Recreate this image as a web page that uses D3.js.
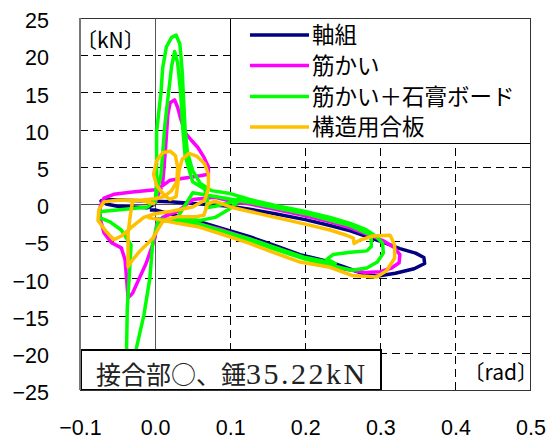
<!DOCTYPE html>
<html>
<head>
<meta charset="utf-8">
<script src="https://cdn.jsdelivr.net/npm/d3@7"></script>
<style>
  body { margin: 0; background: #fff; }
  svg { display: block; }
</style>
</head>
<body>
<script>
// tick values
const xTicks = [-0.1, 0.0, 0.1, 0.2, 0.3, 0.4, 0.5];
const yTicks = [-25, -20, -15, -10, -5, 0, 5, 10, 15, 20, 25];

const seriesNames = ["軸組", "筋かい", "筋かい＋石膏ボード", "構造用合板"];
const seriesColors = ["#000080", "#ff00ff", "#00ff00", "#ffc000"];

// [rad, kN]
const jikugumi = [
  [0.000, 0.0], [-0.010, -0.5], [-0.030, -0.4], [-0.050, -0.3], [-0.065, 0.0], [-0.072, 0.4],
  [-0.066, 0.6], [-0.040, 0.5], [-0.010, 0.4], [0.020, 0.3], [0.060, 0.0], [0.100, -0.3],
  [0.126, -0.7], [0.160, -1.3], [0.200, -2.1], [0.233, -2.9], [0.260, -3.6], [0.286, -4.5],
  [0.305, -5.2], [0.326, -6.0], [0.347, -6.6], [0.358, -7.2], [0.359, -8.0], [0.345, -8.7],
  [0.320, -9.3], [0.295, -9.7], [0.275, -9.3], [0.250, -8.4], [0.233, -7.8], [0.193, -6.8],
  [0.160, -5.6], [0.126, -4.4], [0.090, -3.3], [0.060, -2.4], [0.030, -1.6], [0.000, -0.8],
  [-0.007, -0.8]
];

const sujikai = [
  [0.000, 0.0], [0.004, 1.2], [0.010, 2.6], [0.012, 5.0], [0.015, 9.0], [0.017, 12.0],
  [0.020, 13.6], [0.026, 14.0], [0.030, 13.0], [0.034, 11.5], [0.040, 9.6], [0.048, 8.6],
  [0.057, 7.6], [0.065, 6.3], [0.071, 5.0], [0.071, 4.0], [0.060, 3.8], [0.040, 3.5],
  [0.020, 3.2], [0.012, 2.6], [0.000, 1.9], [-0.030, 1.6], [-0.055, 1.3], [-0.068, 0.8],
  [-0.073, -0.3], [-0.073, -2.0], [-0.068, -3.9], [-0.058, -5.2], [-0.045, -5.9], [-0.040, -7.5],
  [-0.038, -10.0], [-0.036, -12.6], [-0.030, -12.0], [-0.022, -10.2], [-0.012, -8.0], [-0.005, -6.0],
  [0.000, -4.5], [0.002, -2.8], [0.010, -1.8], [0.030, -1.0], [0.050, 0.6], [0.080, 0.9],
  [0.100, 0.4], [0.126, 0.0], [0.160, -0.7], [0.200, -1.6], [0.233, -2.4], [0.260, -3.2],
  [0.286, -4.2], [0.305, -5.0], [0.318, -5.8], [0.326, -6.8], [0.325, -7.9], [0.315, -8.6],
  [0.300, -9.1], [0.280, -9.2], [0.250, -8.7], [0.233, -8.1], [0.193, -7.1], [0.160, -5.9],
  [0.126, -4.7], [0.090, -3.5], [0.060, -2.7], [0.030, -2.2], [0.000, -2.0]
];

const sujikaiBoard = [
  [0.000, 0.0], [0.002, 3.0], [0.002, 9.7], [0.005, 12.4], [0.008, 15.1], [0.010, 18.2],
  [0.015, 21.1], [0.022, 22.4], [0.028, 22.7], [0.033, 21.5], [0.036, 18.0], [0.038, 14.0],
  [0.040, 10.0], [0.043, 7.0], [0.050, 4.5], [0.060, 2.8], [0.075, 1.8], [0.100, 1.4],
  [0.126, 0.6], [0.160, -0.2], [0.200, -1.0], [0.233, -1.8], [0.260, -2.6], [0.280, -3.4],
  [0.295, -4.4], [0.303, -5.3], [0.304, -6.6], [0.296, -7.8], [0.282, -8.6], [0.262, -8.9],
  [0.240, -8.4], [0.200, -7.4], [0.160, -6.1], [0.126, -4.9], [0.090, -3.7], [0.060, -2.9],
  [0.030, -2.3], [0.005, -2.0], [-0.003, -5.0], [-0.007, -10.0], [-0.015, -15.0], [-0.025, -19.4],
  [-0.030, -23.0], [-0.038, -19.4], [-0.037, -14.0], [-0.034, -9.0], [-0.032, -5.5], [-0.045, -3.5],
  [-0.060, -2.4], [-0.075, -1.8], [-0.072, -1.0], [-0.050, -0.8], [-0.030, -0.6], [-0.010, -0.4],
  [0.000, 0.5], [0.008, 4.0], [0.013, 10.6], [0.018, 15.0], [0.022, 18.5], [0.026, 20.5],
  [0.030, 19.0], [0.034, 15.0], [0.037, 10.0], [0.040, 6.5], [0.050, 3.0], [0.066, 2.0],
  [0.070, 0.5], [0.068, -0.5], [0.080, -0.3], [0.100, 0.2], [0.117, 0.9], [0.100, -0.6],
  [0.080, -1.8], [0.060, -2.2], [0.030, -1.8], [0.050, 1.5], [0.080, 1.0], [0.126, 0.2],
  [0.200, -1.3], [0.260, -2.9], [0.288, -4.2], [0.288, -5.7], [0.282, -6.3], [0.260, -6.5],
  [0.237, -6.8], [0.229, -7.4], [0.240, -8.0], [0.200, -7.2], [0.126, -4.7], [0.060, -2.7],
  [0.030, -2.0]
];

const gouhan = [
  [0.000, 0.0], [-0.020, 0.5], [-0.050, 0.5], [-0.068, 0.3], [-0.075, -0.8], [-0.076, -2.2],
  [-0.066, -3.6], [-0.055, -4.8], [-0.045, -4.3], [-0.030, -3.0], [-0.015, -1.8], [0.000, -1.3],
  [0.020, -1.0], [0.050, -0.4], [0.066, 0.5], [0.071, 2.0], [0.071, 4.0], [0.066, 5.4],
  [0.056, 6.4], [0.045, 6.8], [0.036, 6.0], [0.032, 4.5], [0.030, 2.5], [0.028, 1.0],
  [0.020, 0.6], [0.012, 1.2], [0.002, 2.5], [-0.002, 4.0], [0.002, 5.8], [0.010, 6.9],
  [0.020, 7.1], [0.027, 6.5], [0.030, 5.0], [0.029, 3.0], [0.022, 1.8], [0.012, 1.0],
  [0.000, 0.7], [-0.030, 0.4], [-0.033, -1.5], [-0.036, -4.0], [-0.036, -8.4], [-0.030, -7.5],
  [-0.020, -6.3], [-0.010, -5.3], [-0.003, -4.6], [0.005, -3.2], [0.011, -2.2], [0.030, -1.7],
  [0.055, -1.7], [0.065, -1.5], [0.070, 0.0], [0.080, 0.4], [0.100, -0.4], [0.126, -1.0],
  [0.160, -1.8], [0.200, -2.7], [0.233, -3.5], [0.255, -4.2], [0.264, -4.6], [0.265, -5.3],
  [0.272, -4.9], [0.290, -4.3], [0.313, -4.2], [0.319, -5.5], [0.319, -7.3], [0.308, -9.0],
  [0.295, -9.8], [0.262, -9.6], [0.233, -8.5], [0.193, -7.8], [0.160, -6.6], [0.126, -5.3],
  [0.090, -4.1], [0.059, -3.1], [0.030, -2.6], [0.000, -2.0], [-0.010, -1.8]
];

const allSeries = [jikugumi, sujikai, sujikaiBoard, gouhan];

const W = 546, H = 441;
const plot = {left: 80, right: 530.5, top: 18, bottom: 390};

const svg = d3.select("body").append("svg")
  .attr("width", W)
  .attr("height", H);

let x = d3.scaleLinear().domain([-0.1, 0.5]).range([plot.left, plot.right]);
let y = d3.scaleLinear().domain([-25, 25]).range([plot.bottom, plot.top]);

const sans = "'Liberation Sans', Arial, sans-serif";
const jp = "'Noto Sans CJK JP', sans-serif";

// dashed grid
const grid = svg.append("g").attr("stroke", "#000").attr("stroke-width", 1)
  .attr("stroke-dasharray", "8,5").attr("shape-rendering", "crispEdges");
grid.selectAll("line.gx")
  .data(xTicks.filter(d => d > 0.05 && d < 0.45))
  .enter().append("line")
  .attr("x1", d => Math.round(x(d)) + 0.5).attr("x2", d => Math.round(x(d)) + 0.5)
  .attr("y1", plot.top).attr("y2", plot.bottom);
grid.selectAll("line.gy")
  .data(yTicks.filter(d => d !== 0 && Math.abs(d) < 25))
  .enter().append("line")
  .attr("y1", d => Math.round(y(d)) + 0.5).attr("y2", d => Math.round(y(d)) + 0.5)
  .attr("x1", plot.left).attr("x2", plot.right);

// zero lines
svg.append("line")
  .attr("x1", Math.round(x(0)) + 0.5).attr("x2", Math.round(x(0)) + 0.5)
  .attr("y1", plot.top).attr("y2", plot.bottom)
  .attr("stroke", "#555").attr("stroke-width", 1);
svg.append("line")
  .attr("x1", plot.left).attr("x2", plot.right)
  .attr("y1", Math.round(y(0)) + 0.5).attr("y2", Math.round(y(0)) + 0.5)
  .attr("stroke", "#555").attr("stroke-width", 1);

// curves
let line = d3.line().x(d => x(d[0])).y(d => y(d[1]));
svg.append("defs").append("clipPath").attr("id", "clip")
  .append("rect").attr("x", plot.left).attr("y", plot.top)
  .attr("width", plot.right - plot.left).attr("height", plot.bottom - plot.top);
svg.append("g").attr("clip-path", "url(#clip)")
  .selectAll("path")
  .data(allSeries)
  .enter().append("path")
  .attr("d", line)
  .attr("fill", "none")
  .attr("stroke", (d, i) => seriesColors[i])
  .attr("stroke-width", 3.5)
  .attr("stroke-linejoin", "round");

// legend
const lg = svg.append("g");
lg.append("rect")
  .attr("x", Math.round(x(0.1)) + 0.5).attr("y", plot.top + 0.5)
  .attr("width", plot.right - Math.round(x(0.1)) - 0.5).attr("height", 125)
  .attr("fill", "#fff").attr("stroke", "#000").attr("stroke-width", 1);
const rowY = [35, 65.5, 96.5, 127];
seriesNames.forEach((name, i) => {
  lg.append("line")
    .attr("x1", 250).attr("x2", 309)
    .attr("y1", rowY[i]).attr("y2", rowY[i])
    .attr("stroke", seriesColors[i]).attr("stroke-width", 3.5);
  lg.append("text")
    .attr("x", 312).attr("y", rowY[i]).attr("dy", "0.36em")
    .attr("font-family", jp).attr("font-size", 22.5)
    .attr("fill", "#000")
    .text(name);
});

// annotation box
svg.append("rect")
  .attr("x", plot.left + 1).attr("y", 350)
  .attr("width", 300).attr("height", plot.bottom - 350)
  .attr("fill", "#fff").attr("stroke", "#000").attr("stroke-width", 2);
let note = svg.append("text")
  .attr("x", 96).attr("y", 384)
  .attr("fill", "#222");
note.append("tspan")
  .attr("font-family", jp).attr("font-size", 25)
  .text("接合部○、錘");
note.append("tspan")
  .attr("font-family", "'Liberation Serif', serif").attr("font-size", 30)
  .attr("letter-spacing", 2.5)
  .text("35.22kN");

// frame
svg.append("rect")
  .attr("x", plot.left + 0.5).attr("y", plot.top + 0.5)
  .attr("width", plot.right - plot.left - 0.5).attr("height", plot.bottom - plot.top)
  .attr("fill", "none").attr("stroke", "#333").attr("stroke-width", 1);
svg.append("line")
  .attr("x1", plot.left).attr("x2", plot.left)
  .attr("y1", plot.top).attr("y2", plot.bottom)
  .attr("stroke", "#777").attr("stroke-width", 2);

// unit labels
svg.append("text")
  .attr("x", 76).attr("y", 48)
  .attr("font-family", jp).attr("font-size", 21)
  .text("〔kN〕");
svg.append("text")
  .attr("x", 538).attr("y", 380)
  .attr("text-anchor", "end")
  .attr("font-family", jp).attr("font-size", 21)
  .text("〔rad〕");

// axes (labels only)
let yAxis = svg.append("g")
  .attr("transform", "translate(" + plot.left + ",0)")
  .call(d3.axisLeft(y).tickValues(yTicks).tickSize(0).tickPadding(31).tickFormat(d3.format("d")));
let xAxis = svg.append("g")
  .attr("transform", "translate(0," + plot.bottom + ")")
  .call(d3.axisBottom(x).tickValues(xTicks).tickSize(0).tickPadding(30).tickFormat(d3.format(".1f")));
[yAxis, xAxis].forEach(a => {
  a.select(".domain").remove();
  a.selectAll("text").attr("font-family", sans).attr("font-size", 21.5).attr("fill", "#000");
});
yAxis.selectAll("text").attr("dy", "0.45em");
</script>
</body>
</html>
